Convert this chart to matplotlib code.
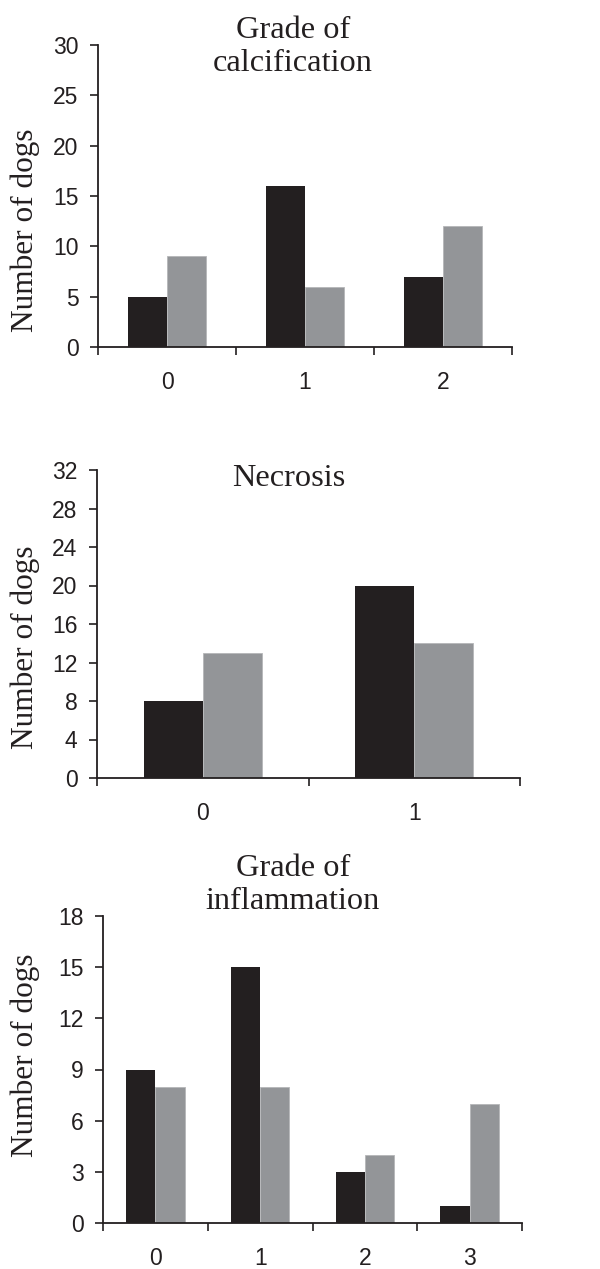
import matplotlib
matplotlib.use("Agg")
import matplotlib.pyplot as plt
import numpy as np

# Data
calc_categories = ["0", "1", "2"]
calc_black = [5, 16, 7]
calc_gray = [9, 6, 12]
calc_yticks = [0, 5, 10, 15, 20, 25, 30]

nec_categories = ["0", "1"]
nec_black = [8, 20]
nec_gray = [13, 14]
nec_yticks = [0, 4, 8, 12, 16, 20, 24, 28, 32]

inf_categories = ["0", "1", "2", "3"]
inf_black = [9, 15, 3, 1]
inf_gray = [8, 8, 4, 7]
inf_yticks = [0, 3, 6, 9, 12, 15, 18]

titles = ["Grade of\ncalcification", "Necrosis", "Grade of\ninflammation"]
ylabel = "Number of dogs"

W, H = 600, 1269
fig = plt.figure(figsize=(W / 100, H / 100), dpi=100)

BLACK = "#231f20"
GRAY = "#939598"
AXC = "#231f20"
SERIF = "Liberation Serif"
SANS = "Liberation Sans"

def px_rect(l, r, top, bot):
    return [l / W, 1 - bot / H, (r - l) / W, (bot - top) / H]

panels = [
    (px_rect(98, 512, 45, 347), calc_categories, calc_black, calc_gray, calc_yticks,
     (293, 47), 230),
    (px_rect(97, 520, 470, 778), nec_categories, nec_black, nec_gray, nec_yticks,
     (289, 478), 647),
    (px_rect(103, 522, 916, 1223), inf_categories, inf_black, inf_gray, inf_yticks,
     (293, 885), 1055),
]

bw = 0.28
for (rect, cats, blk, gry, yt, tpos, ylc), title in zip(panels, titles):
    ax = fig.add_axes(rect)
    n = len(cats)
    x = np.arange(n)
    ax.bar(x - bw / 2, blk, width=bw, color=BLACK, edgecolor="none")
    ax.bar(x + bw / 2, gry, width=bw, color=GRAY, edgecolor="#b5b6b8", linewidth=0.6)
    ax.set_xlim(-0.5, n - 0.5)
    ax.set_ylim(yt[0], yt[-1])
    ax.set_yticks(yt)
    ax.set_yticklabels([str(v) for v in yt], fontsize=16.5, family=SANS, color="#231f20")
    ax.set_xticks(np.arange(n + 1) - 0.5)
    ax.set_xticklabels([])
    ax.set_xticks(x, minor=True)
    ax.set_xticklabels(cats, minor=True, fontsize=16.5, family=SANS, color="#231f20")
    ax.tick_params(axis="x", which="major", direction="out", length=6, width=1.2, color=AXC)
    ax.tick_params(axis="x", which="minor", length=0, pad=17)
    ax.tick_params(axis="y", direction="out", length=6, width=1.2, color=AXC, pad=8)
    for s in ["top", "right"]:
        ax.spines[s].set_visible(False)
    for s in ["left", "bottom"]:
        ax.spines[s].set_color(AXC)
        ax.spines[s].set_linewidth(1.3)
    ax.set_facecolor("white")
    fig.text(tpos[0] / W, 1 - tpos[1] / H, title, ha="center", va="center",
             fontsize=23.3, family=SERIF, color="#231f20", linespacing=1.2)
    fig.text(25 / W, 1 - ylc / H, ylabel, ha="center", va="center", rotation=90,
             fontsize=22.5, family=SERIF, color="#231f20")

fig.savefig("out.png", dpi=100, facecolor="white")
